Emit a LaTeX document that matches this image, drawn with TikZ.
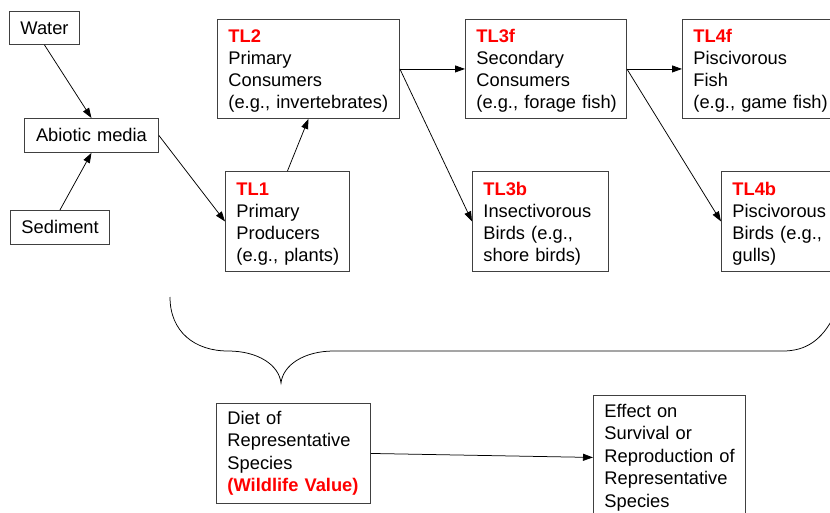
\documentclass[tikz,border=0pt]{standalone}
\usepackage{fontspec}
\setmainfont{Liberation Sans}
\usetikzlibrary{arrows.meta}
\begin{document}
\begin{tikzpicture}[x=1pt,y=-1pt,
  box/.style={draw=black!75, line width=0.9pt, anchor=north west,
    inner xsep=11pt, inner ysep=0pt, align=left,
    font=\fontsize{18.3}{22.5}\selectfont},
  tlbox/.style={box, font=\fontsize{18.3}{22}\selectfont},
  cbox/.style={box, align=center},
  conn/.style={draw=black, line width=0.75pt, -{Triangle[length=10pt,width=7pt]}},
  brace/.style={draw=black, line width=0.75pt}]
\newcommand{\tl}[1]{\rule{0pt}{17pt}\textcolor{red}{\bfseries #1}}
\fill[white] (0,0) rectangle (830,513);
\useasboundingbox (0,0) rectangle (830,513);

% abiotic media and sources
\node[cbox, text width=48pt,  minimum height=33pt] (water)    at (9,11)   {Water};
\node[cbox, text width=112pt, minimum height=34pt] (abiotic)  at (24,118) {Abiotic media};
\node[cbox, text width=77pt,  minimum height=34pt] (sediment) at (10,210) {Sediment};

% trophic levels
\node[tlbox, text width=160pt, minimum height=99pt] (tl2) at (217,19)
  {\tl{TL2}\\Primary\\Consumers\\\mbox{(e.g., invertebrates)}};
\node[tlbox, text width=139pt, minimum height=99pt] (tl3f) at (465,19)
  {\tl{TL3f}\\Secondary\\Consumers\\\mbox{(e.g., forage fish)}};
\node[tlbox, text width=138pt, minimum height=99pt] (tl4f) at (682,19)
  {\tl{TL4f}\\Piscivorous\\Fish\\\mbox{(e.g., game fish)}};
\node[tlbox, text width=102pt, minimum height=100pt] (tl1) at (225,171)
  {\tl{TL1}\\Primary\\Producers\\\mbox{(e.g., plants)}};
\node[tlbox, text width=114pt, minimum height=100pt] (tl3b) at (472,171)
  {\tl{TL3b}\\\mbox{Insectivorous}\\\mbox{Birds (e.g.,}\\\mbox{shore birds)}};
\node[tlbox, text width=98pt, minimum height=100pt] (tl4b) at (721,171)
  {\tl{TL4b}\\\mbox{Piscivorous}\\\mbox{Birds (e.g.,}\\gulls)};

% assessment
\node[box, text width=132pt, minimum height=100pt] (diet) at (216,403)
  {Diet of\\\mbox{Representative}\\Species\\\textcolor{red}{\bfseries\mbox{(Wildlife Value)}}};
\node[box, text width=130pt, minimum height=124pt] (effect) at (593,395)
  {Effect on\\Survival or\\\mbox{Reproduction of}\\\mbox{Representative}\\Species};

% connectors
\draw[conn] (water.south) -- (abiotic.north);
\draw[conn] (sediment.north) -- (abiotic.south);
\draw[conn] (abiotic.east) -- (tl1.west);
\draw[conn] (tl1.north) -- (tl2.south);
\draw[conn] (tl2.east) -- (tl3f.west);
\draw[conn] (tl2.east) -- (tl3b.west);
\draw[conn] (tl3f.east) -- (tl4f.west);
\draw[conn] (tl3f.east) -- (tl4b.west);
\draw[conn] (diet.east) -- (effect.west);

% brace gathering the receptors
\draw[brace] (170,297) .. controls (170,332) and (195,351) .. (228,351)
  .. controls (258,351) and (279,365) .. (281,383)
  .. controls (283,365) and (304,351) .. (334,351)
  -- (783,351) .. controls (806,351) and (822,340) .. (834,316);
\end{tikzpicture}
\end{document}
